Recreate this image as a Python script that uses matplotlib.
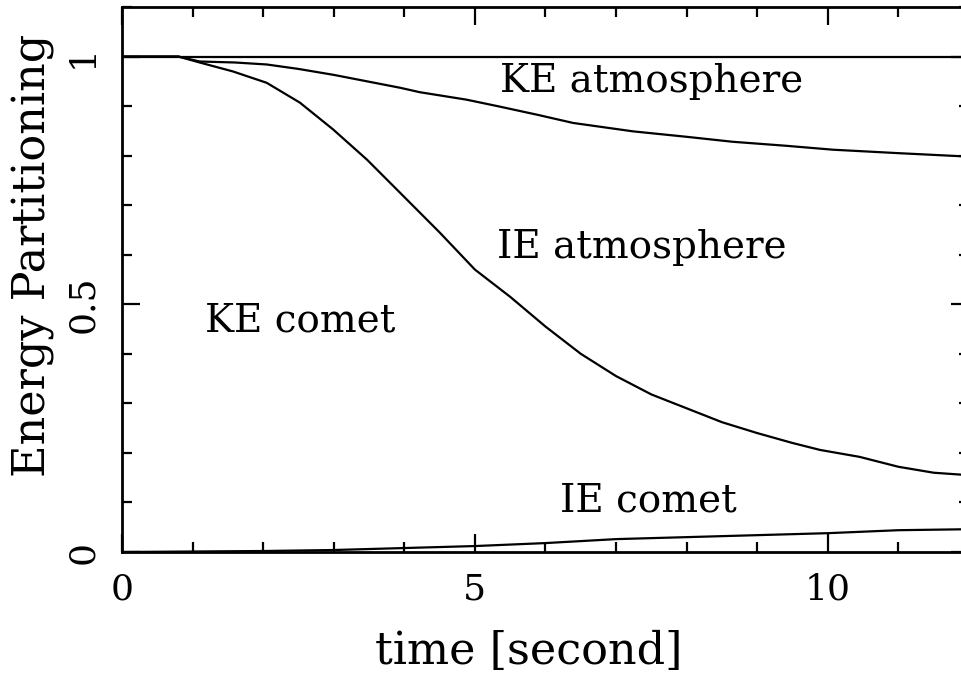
import matplotlib
matplotlib.use('Agg')
import matplotlib.pyplot as plt
from matplotlib.ticker import MultipleLocator, FuncFormatter

plt.rcParams['font.family'] = 'DejaVu Serif'

# cumulative energy fractions vs time [s]
t_total = [0.0, 12.0]
total = [1.0, 1.0]

t_ke_atm = [0.0, 0.8, 1.1, 1.6, 2.05, 2.5, 3.0, 3.47, 3.94, 4.22, 4.88, 5.35,
            5.9, 6.39, 7.24, 8.0, 8.65, 9.4, 10.07, 11.0, 12.0]
ke_atm = [1.0, 1.0, 0.99, 0.988, 0.984, 0.975, 0.963, 0.95, 0.937, 0.928, 0.913, 0.899,
          0.882, 0.866, 0.849, 0.838, 0.828, 0.82, 0.812, 0.805, 0.798]

t_ie_atm = [0.0, 0.8, 1.1, 1.57, 2.05, 2.52, 2.99, 3.47, 3.94, 4.5, 5.0, 5.5,
            6.0, 6.5, 7.0, 7.5, 8.0, 8.5, 9.0, 9.5, 9.89, 10.45, 11.0, 11.5, 12.0]
ie_atm = [1.0, 1.0, 0.988, 0.97, 0.947, 0.907, 0.853, 0.792, 0.725, 0.645, 0.57, 0.515,
          0.455, 0.4, 0.355, 0.318, 0.29, 0.262, 0.24, 0.22, 0.206, 0.192, 0.172, 0.16, 0.155]

t_ie_com = [0.0, 2.0, 3.0, 4.0, 5.0, 6.0, 7.0, 8.0, 9.0, 10.0, 11.0, 12.0]
ie_com = [0.0, 0.002, 0.004, 0.008, 0.012, 0.018, 0.026, 0.03, 0.034, 0.038, 0.044, 0.046]

labels = ['KE atmosphere', 'IE atmosphere', 'KE comet', 'IE comet']
label_x = [5.35, 5.31, 1.18, 6.2]
label_y = [0.95, 0.614, 0.467, 0.103]

fig = plt.figure(figsize=(9.61, 6.88), dpi=100)
ax = fig.add_axes([122 / 961, 136 / 688, 847 / 961, 545 / 688])

lw = 1.6
for x, y in [(t_total, total), (t_ke_atm, ke_atm), (t_ie_atm, ie_atm), (t_ie_com, ie_com)]:
    ax.plot(x, y, color='black', lw=lw)

for s, x, y in zip(labels, label_x, label_y):
    ax.text(x, y, s, fontsize=28, va='center', ha='left')

ax.set_xlim(0, 12)
ax.set_ylim(0, 1.1)
ax.xaxis.set_major_locator(MultipleLocator(5))
ax.xaxis.set_minor_locator(MultipleLocator(1))
ax.yaxis.set_major_locator(MultipleLocator(0.5))
ax.yaxis.set_minor_locator(MultipleLocator(0.1))
ax.xaxis.set_major_formatter(FuncFormatter(lambda v, p: f'{v:g}'))
ax.yaxis.set_major_formatter(FuncFormatter(lambda v, p: f'{v:g}'))

ax.tick_params(which='both', direction='in', top=True, right=True, width=1.6,
               labelsize=26)
ax.tick_params(which='major', length=13)
ax.tick_params(which='minor', length=7)
ax.tick_params(axis='x', pad=15)
ax.tick_params(axis='y', pad=16)
for lab in ax.get_yticklabels():
    lab.set_rotation(90)
    lab.set_va('center')
for sp in ax.spines.values():
    sp.set_linewidth(2.0)

ax.set_xlabel('time [second]', fontsize=32)
ax.set_ylabel('Energy Partitioning', fontsize=32)
ax.xaxis.set_label_coords(0.48, -0.143)
ax.yaxis.set_label_coords(-0.079, 0.545)

fig.savefig('out.png', dpi=100)
